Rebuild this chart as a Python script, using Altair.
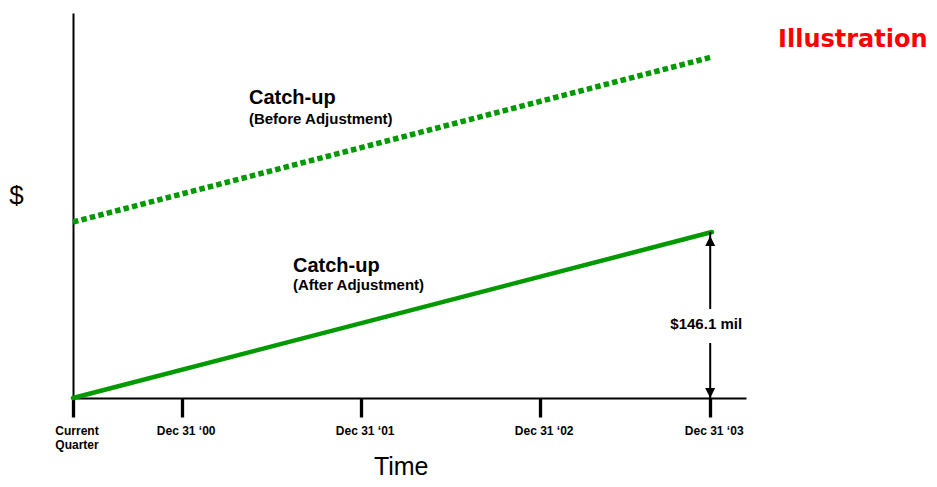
import json
import altair as alt
import pandas as pd

# ---------------- data ----------------
GREEN = "#009900"
tick_values = [0, 0.61, 1.61, 2.61, 3.56]
tick_labels = ["Current Quarter", "Dec 31 \u201800", "Dec 31 \u201801", "Dec 31 \u201802", "Dec 31 \u201803"]

line_x = [0, 3.57]
before_y = [154.9, 300.2]   # Catch-up (Before Adjustment)
after_y = [0, 146.1]        # Catch-up (After Adjustment)

arrow_x = 3.56
arrow_top = 146.1
shaft_y = [146.1, 48.4]
shaft_y2 = [78.3, 0]
arrow_label = "$146.1 mil"
arrow_label_y = 60.8

ann_text = ["Catch-up", "(Before Adjustment)", "Catch-up", "(After Adjustment)"]
ann_x = [0.983, 0.983, 1.229, 1.229]
ann_y = [258.8, 241.2, 110.9, 95.1]
ann_size = [20, 15, 20, 15]

X_DOMAIN = [0, 3.76]
Y_DOMAIN = [0, 338.9]

# ---------------- scales / axes ----------------
lab_js = json.dumps(tick_labels, ensure_ascii=False)
val_js = json.dumps(tick_values)
label_expr = (f"datum.value === 0 ? split({lab_js}[0], ' ') : "
              f"{lab_js}[indexof({val_js}, datum.value)]")

x_scale = alt.Scale(domain=X_DOMAIN, nice=False, zero=False)
y_scale = alt.Scale(domain=Y_DOMAIN, nice=False, zero=False)

x_axis = alt.Axis(
    values=tick_values, labelExpr=label_expr, grid=False,
    domainColor="black", domainWidth=2,
    tickColor="black", tickWidth=3.3, tickSize=19,
    labelFont="Liberation Sans", labelFontWeight="bold", labelFontSize=12,
    labelColor="black", labelPadding=8, labelOffset=3.5, labelLineHeight=14,
    labelFlush=False, labelOverlap=False,
    title="Time", titleFont="Liberation Sans", titleFontSize=25,
    titleFontWeight="normal", titleColor="black", titleX=327.7, titleY=76,
    titleBaseline="alphabetic", titleAlign="center",
)
y_axis = alt.Axis(
    ticks=False, labels=False, grid=False,
    domainColor="black", domainWidth=2,
    title="$", titleFont="Liberation Sans", titleFontSize=26,
    titleFontWeight="normal", titleColor="black", titleAngle=0,
    titleX=-57, titleY=182, titleBaseline="middle", titleAlign="center",
)

# ---------------- frames ----------------
lines_df = pd.DataFrame({"x": line_x, "before": before_y, "after": after_y})
shaft_df = pd.DataFrame({"x": [arrow_x, arrow_x], "y": shaft_y, "y2": shaft_y2})
head_up_df = pd.DataFrame({"x": [arrow_x], "y": [arrow_top]})
head_dn_df = pd.DataFrame({"x": [arrow_x], "y": [0]})
lab_df = pd.DataFrame({"x": [arrow_x], "y": [arrow_label_y], "t": [arrow_label]})
ann_df = pd.DataFrame({"x": ann_x, "y": ann_y, "t": ann_text, "s": ann_size})

base_x = alt.X("x:Q", scale=x_scale, axis=x_axis)

before = alt.Chart(lines_df).mark_line(
    color=GREEN, strokeWidth=5.5, strokeDash=[5.5, 3.2], strokeCap="butt"
).encode(x=base_x, y=alt.Y("before:Q", scale=y_scale, axis=y_axis))

after = alt.Chart(lines_df).mark_line(
    color=GREEN, strokeWidth=4.5, strokeCap="round"
).encode(x=alt.X("x:Q", scale=x_scale), y=alt.Y("after:Q", scale=y_scale))

shafts = alt.Chart(shaft_df).mark_rule(color="black", strokeWidth=2).encode(
    x=alt.X("x:Q", scale=x_scale), y=alt.Y("y:Q", scale=y_scale), y2="y2:Q"
)

head_up = alt.Chart(head_up_df).mark_point(
    shape="M0,0L0.5,1L-0.5,1Z", size=400, filled=True, color="black",
    opacity=1, strokeWidth=0, yOffset=4
).encode(x=alt.X("x:Q", scale=x_scale), y=alt.Y("y:Q", scale=y_scale))

head_dn = alt.Chart(head_dn_df).mark_point(
    shape="M0,0L0.5,-1L-0.5,-1Z", size=400, filled=True, color="black",
    opacity=1, strokeWidth=0
).encode(x=alt.X("x:Q", scale=x_scale), y=alt.Y("y:Q", scale=y_scale))

arrow_text = alt.Chart(lab_df).mark_text(
    font="Liberation Sans", fontWeight="bold", fontSize=15, color="black",
    align="center", baseline="alphabetic", dx=-4
).encode(x=alt.X("x:Q", scale=x_scale), y=alt.Y("y:Q", scale=y_scale), text="t:N")

ann = alt.Chart(ann_df).mark_text(
    font="Liberation Sans", fontWeight="bold", color="black",
    align="left", baseline="alphabetic"
).encode(
    x=alt.X("x:Q", scale=x_scale), y=alt.Y("y:Q", scale=y_scale),
    text="t:N", size=alt.Size("s:Q", scale=None, legend=None)
)

chart = alt.layer(before, after, shafts, head_up, head_dn, arrow_text, ann).properties(
    width=673, height=385,
    background="white",
    autosize=alt.AutoSizeParams(type="none"),
    padding={"left": 65, "top": 5, "right": 183, "bottom": 81},
    title=alt.TitleParams(
        "Illustration", anchor="start", frame="group", orient="top",
        font="DejaVu Sans", fontSize=24, fontWeight="bold", color="#ff0000",
        baseline="alphabetic", offset=0, dx=705, dy=58,
    ),
).configure_view(strokeWidth=0, stroke="transparent")

chart.save("out.html", embed_options={"renderer": "svg", "actions": False})
